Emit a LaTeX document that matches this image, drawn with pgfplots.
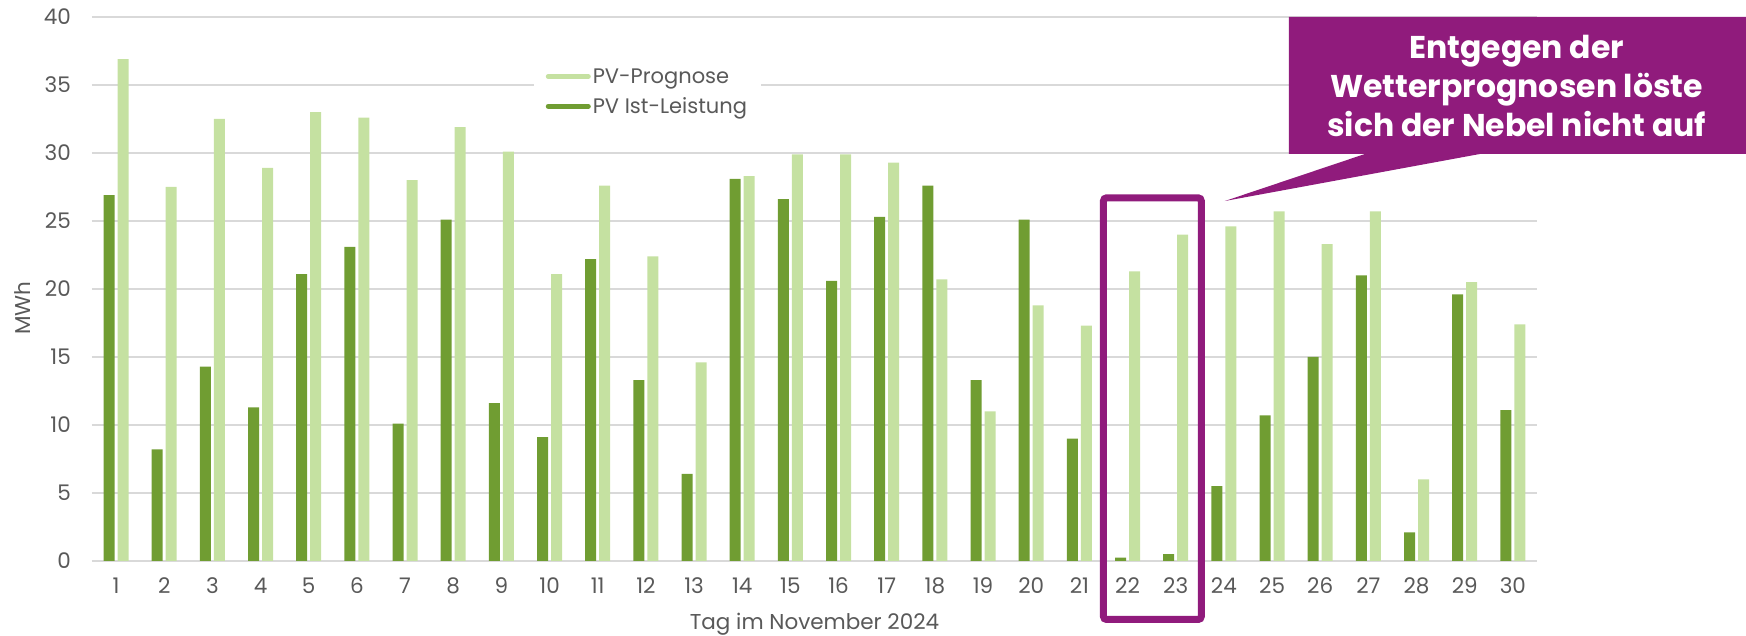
\documentclass[border=0pt]{standalone}
\usepackage{fontspec}
\setmainfont{Poppins}
\usepackage{pgfplots}
\pgfplotsset{compat=1.18}
\usetikzlibrary{calc}
\definecolor{dgreen}{RGB}{112,157,50}
\definecolor{lgreen}{RGB}{197,225,161}
\definecolor{pviolet}{RGB}{144,27,124}
\definecolor{gridgray}{RGB}{217,217,217}
\definecolor{txtgray}{RGB}{89,89,89}
\begin{document}
\begin{tikzpicture}
\begin{axis}[
  scale only axis, width=1445pt, height=544pt,
  xmin=0.5, xmax=30.5, ymin=0, ymax=40,
  clip=false,
  ybar, bar width=11pt,
  xtick={1,...,30}, ytick={0,5,...,40},
  ymajorgrids, grid style={gridgray, line width=1.6pt},
  axis line style={draw=none},
  major tick length=0pt,
  /pgf/number format/assume math mode=true,
  tick label style={font=\fontsize{21.5}{24}\selectfont, text=txtgray},
  yticklabel style={anchor=east, inner sep=0pt, xshift=-21pt},
  xticklabel style={anchor=center, inner sep=0pt, yshift=-25pt},
  xlabel={Tag im November 2024},
  xlabel style={at={(axis description cs:0.5,-0.1158)}, anchor=center, font=\fontsize{21.5}{24}\selectfont, text=txtgray},
  ylabel={MWh},
  ylabel style={at={(axis description cs:-0.0484,0.465)}, anchor=center, font=\fontsize{21.5}{24}\selectfont, text=txtgray},
  legend style={at={(rel axis cs:0.3056,0.9205)}, anchor=north west, draw=none, fill=white,
    font=\fontsize{21}{24}\selectfont, text=txtgray, row sep=9pt, inner xsep=12pt, inner ysep=6pt},
  legend cell align=left,
]
\addplot[fill=lgreen, draw=none, bar shift=7pt,
  legend image code/.code={\draw[lgreen, line width=5pt, line cap=round] (0pt,0pt) -- (40pt,0pt);}]
  coordinates {(1,36.9) (2,27.5) (3,32.5) (4,28.9) (5,33.0) (6,32.6) (7,28.0) (8,31.9) (9,30.1) (10,21.1)
  (11,27.6) (12,22.4) (13,14.6) (14,28.3) (15,29.9) (16,29.9) (17,29.3) (18,20.7) (19,11.0) (20,18.8)
  (21,17.3) (22,21.3) (23,24.0) (24,24.6) (25,25.7) (26,23.3) (27,25.7) (28,6.0) (29,20.5) (30,17.4)};
\addlegendentry{PV-Prognose}
\addplot[fill=dgreen, draw=none, bar shift=-7pt,
  legend image code/.code={\draw[dgreen, line width=5pt, line cap=round] (0pt,0pt) -- (40pt,0pt);}]
  coordinates {(1,26.9) (2,8.2) (3,14.3) (4,11.3) (5,21.1) (6,23.1) (7,10.1) (8,25.1) (9,11.6) (10,9.1)
  (11,22.2) (12,13.3) (13,6.4) (14,28.1) (15,26.6) (16,20.6) (17,25.3) (18,27.6) (19,13.3) (20,25.1)
  (21,9.0) (22,0.25) (23,0.5) (24,5.5) (25,10.7) (26,15.0) (27,21.0) (28,2.1) (29,19.6) (30,11.1)};
\addlegendentry{PV Ist-Leistung}
% highlight rectangle
\draw[pviolet, line width=7pt, rounded corners=3pt] (axis cs:21.5,26.7) rectangle (axis cs:23.53,-4.3);
% callout
\fill[pviolet] (axis cs:25.35,40) -- (axis cs:35.5,40) -- (axis cs:35.5,29.93) -- (axis cs:29.32,29.93)
  -- (axis cs:24.02,26.47) -- (axis cs:26.93,29.93) -- (axis cs:25.35,29.93) -- cycle;
\node[text=white, font=\fontsize{31.5}{39}\selectfont\bfseries, align=center, anchor=center]
  at (axis cs:30.08,34.9) {Entgegen der\\Wetterprognosen löste\\sich der Nebel nicht auf};
\coordinate (sw) at (rel axis cs:0,0);
\end{axis}
\pgfresetboundingbox
\useasboundingbox ($(sw)+(-92pt,-75pt)$) rectangle ($(sw)+(1654pt,561pt)$);
\end{tikzpicture}
\end{document}
